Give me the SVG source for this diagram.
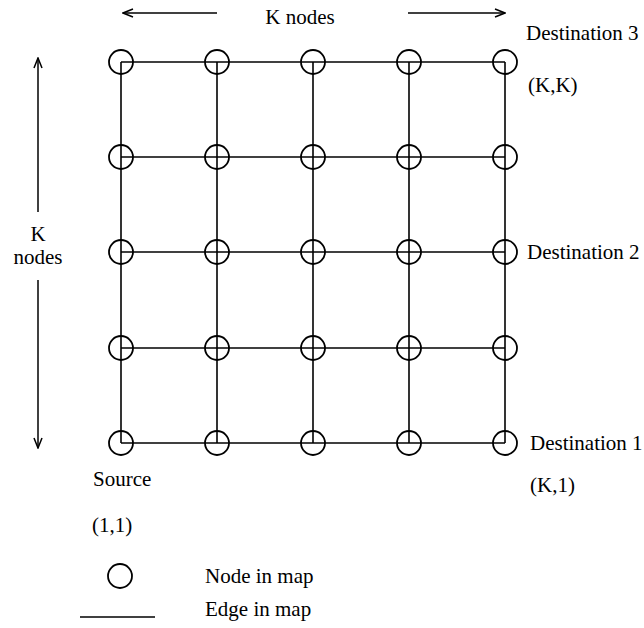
<svg xmlns="http://www.w3.org/2000/svg" width="644" height="628" viewBox="0 0 644 628">
<defs>
<marker id="ah" viewBox="0 0 12 10" refX="11" refY="5" markerWidth="12" markerHeight="10" markerUnits="userSpaceOnUse" orient="auto">
<path d="M1,1 L11,5 L1,9" fill="none" stroke="#000" stroke-width="1.5"/>
</marker>
</defs>
<style>
.t{font-family:"Liberation Serif","Times New Roman",serif;font-size:21px;fill:#000}
.e{stroke:#000;stroke-width:1.6;fill:none}
.n{stroke:#000;stroke-width:1.8;fill:none}
.a{stroke:#000;stroke-width:1.5;fill:none}
</style>
<rect width="644" height="628" fill="#fff"/>
<g id="connectors">
<line class="e" x1="121" y1="62" x2="505" y2="62"/>
<line class="e" x1="121" y1="157" x2="505" y2="157"/>
<line class="e" x1="121" y1="252" x2="505" y2="252"/>
<line class="e" x1="121" y1="348" x2="505" y2="348"/>
<line class="e" x1="121" y1="443" x2="505" y2="443"/>
<line class="e" x1="121" y1="62" x2="121" y2="443"/>
<line class="e" x1="217" y1="62" x2="217" y2="443"/>
<line class="e" x1="313" y1="62" x2="313" y2="443"/>
<line class="e" x1="409" y1="62" x2="409" y2="443"/>
<line class="e" x1="505" y1="62" x2="505" y2="443"/>
</g>
<g id="nodes">
<g id="n-1-5"><circle class="n" cx="121" cy="62" r="12"/></g>
<g id="n-2-5"><circle class="n" cx="217" cy="62" r="12"/></g>
<g id="n-3-5"><circle class="n" cx="313" cy="62" r="12"/></g>
<g id="n-4-5"><circle class="n" cx="409" cy="62" r="12"/></g>
<g id="n-5-5"><circle class="n" cx="505" cy="62" r="12"/></g>
<g id="n-1-4"><circle class="n" cx="121" cy="157" r="12"/></g>
<g id="n-2-4"><circle class="n" cx="217" cy="157" r="12"/></g>
<g id="n-3-4"><circle class="n" cx="313" cy="157" r="12"/></g>
<g id="n-4-4"><circle class="n" cx="409" cy="157" r="12"/></g>
<g id="n-5-4"><circle class="n" cx="505" cy="157" r="12"/></g>
<g id="n-1-3"><circle class="n" cx="121" cy="252" r="12"/></g>
<g id="n-2-3"><circle class="n" cx="217" cy="252" r="12"/></g>
<g id="n-3-3"><circle class="n" cx="313" cy="252" r="12"/></g>
<g id="n-4-3"><circle class="n" cx="409" cy="252" r="12"/></g>
<g id="n-5-3"><circle class="n" cx="505" cy="252" r="12"/></g>
<g id="n-1-2"><circle class="n" cx="121" cy="348" r="12"/></g>
<g id="n-2-2"><circle class="n" cx="217" cy="348" r="12"/></g>
<g id="n-3-2"><circle class="n" cx="313" cy="348" r="12"/></g>
<g id="n-4-2"><circle class="n" cx="409" cy="348" r="12"/></g>
<g id="n-5-2"><circle class="n" cx="505" cy="348" r="12"/></g>
<g id="n-1-1"><circle class="n" cx="121" cy="443" r="12"/></g>
<g id="n-2-1"><circle class="n" cx="217" cy="443" r="12"/></g>
<g id="n-3-1"><circle class="n" cx="313" cy="443" r="12"/></g>
<g id="n-4-1"><circle class="n" cx="409" cy="443" r="12"/></g>
<g id="n-5-1"><circle class="n" cx="505" cy="443" r="12"/></g>
</g>
<g id="dimension-arrows">
<line class="a" x1="217" y1="13" x2="123" y2="13" marker-end="url(#ah)"/>
<line class="a" x1="408" y1="13" x2="505" y2="13" marker-end="url(#ah)"/>
<text class="t" x="300" y="24" text-anchor="middle">K nodes</text>
<line class="a" x1="38" y1="212" x2="38" y2="58" marker-end="url(#ah)"/>
<line class="a" x1="38" y1="280" x2="38" y2="448" marker-end="url(#ah)"/>
<text class="t" x="38" y="241" text-anchor="middle">K</text>
<text class="t" x="38" y="264" text-anchor="middle">nodes</text>
</g>
<g id="labels">
<text class="t" x="526" y="40">Destination 3</text>
<text class="t" x="528" y="92">(K,K)</text>
<text class="t" x="527" y="259">Destination 2</text>
<text class="t" x="530" y="450">Destination 1</text>
<text class="t" x="530" y="492">(K,1)</text>
<text class="t" x="93" y="486">Source</text>
<text class="t" x="92" y="532">(1,1)</text>
</g>
<g id="legend">
<circle class="n" cx="120" cy="576" r="12"/>
<text class="t" x="205" y="583">Node in map</text>
<line class="e" x1="80" y1="617" x2="155" y2="617"/>
<text class="t" x="205" y="616">Edge in map</text>
</g>
</svg>
